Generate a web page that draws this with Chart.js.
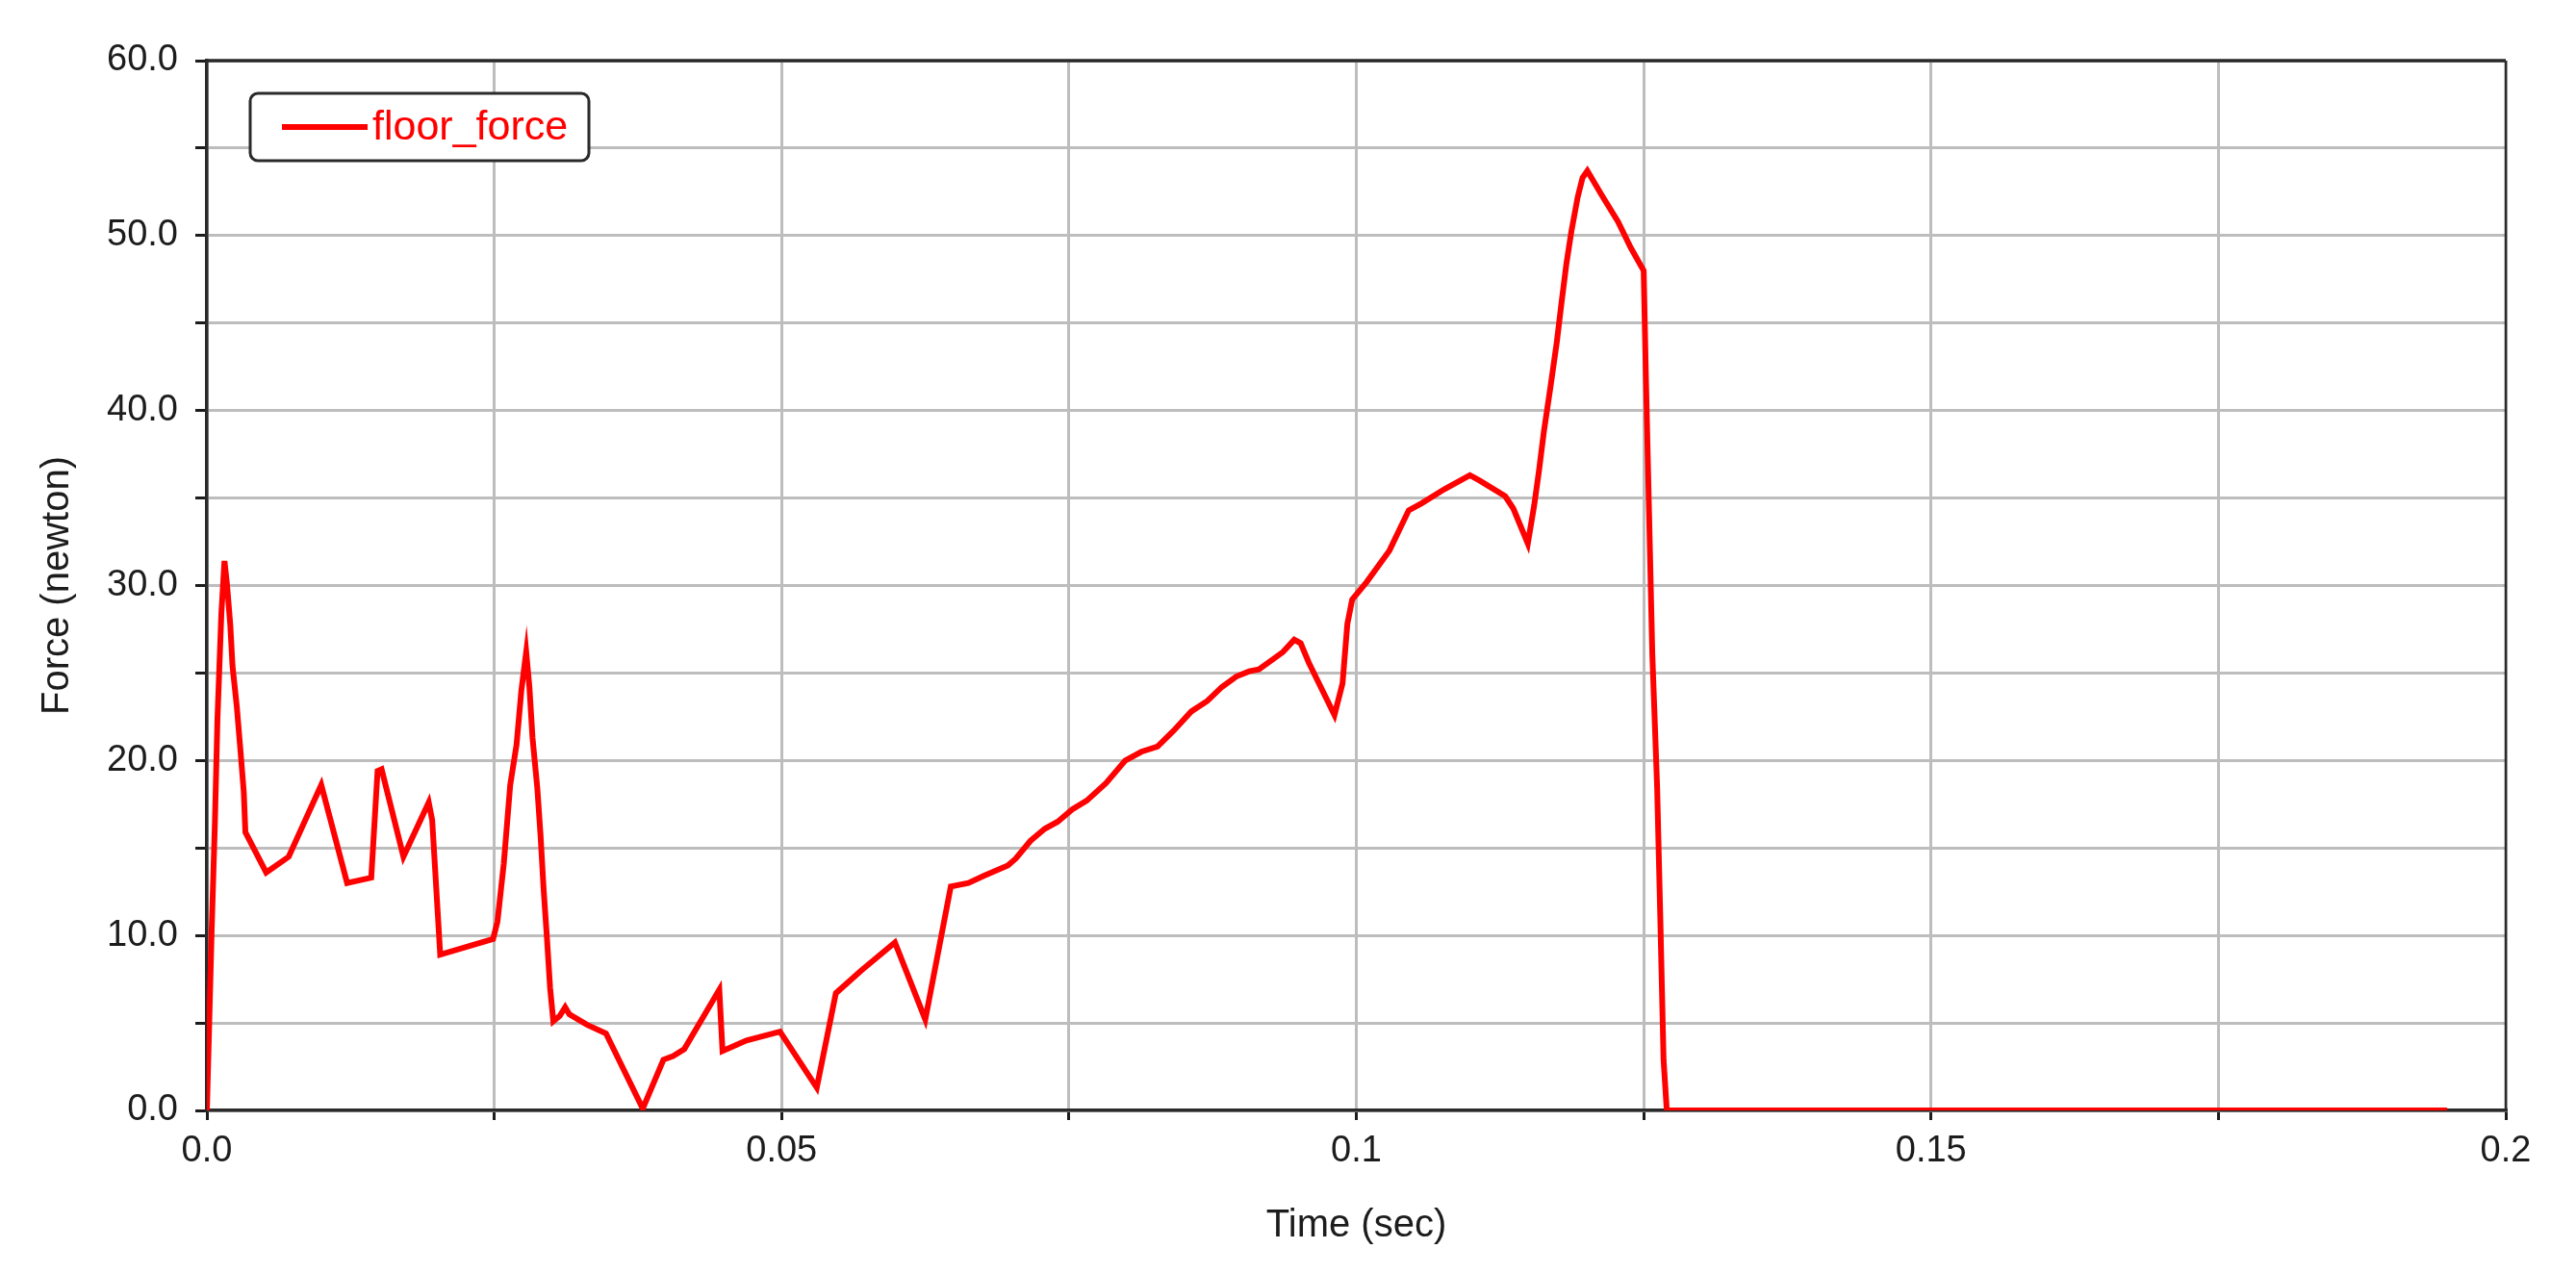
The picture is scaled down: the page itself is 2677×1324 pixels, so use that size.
<!DOCTYPE html>
<html>
<head>
<meta charset="utf-8">
<script src="https://cdn.jsdelivr.net/npm/chart.js@4.4.1/dist/chart.umd.min.js"></script>
<style>
  html, body { margin: 0; padding: 0; background: #ffffff; }
  #wrap { width: 2677px; height: 1324px; position: relative; }
</style>
</head>
<body>
<div id="wrap"><canvas id="c" width="2677" height="1324"></canvas></div>
<script>
// ---- data ----
const seriesName = 'floor_force';
const timeSec = [
  0, 0.0002, 0.00042, 0.0007, 0.00092, 0.00126, 0.00153, 0.00176, 0.00204, 0.00223,
  0.0026, 0.00293, 0.00321, 0.00335, 0.00516, 0.00712, 0.00995, 0.0122, 0.0143, 0.01485,
  0.0152, 0.0171, 0.0193, 0.0196, 0.0203, 0.0249, 0.02528, 0.02583, 0.02639, 0.02694,
  0.02736, 0.02778, 0.02806, 0.02833, 0.02875, 0.02903, 0.0293, 0.02958, 0.02986, 0.03014,
  0.0307, 0.03117, 0.03153, 0.03306, 0.03472, 0.03792, 0.03972, 0.04056, 0.04153, 0.04458,
  0.04486, 0.04694, 0.04986, 0.05306, 0.05472, 0.05694, 0.05986, 0.0625, 0.06472, 0.06625,
  0.06758, 0.06968, 0.07038, 0.07164, 0.0729, 0.07402, 0.07528, 0.07654, 0.07822, 0.0799,
  0.0813, 0.0827, 0.0841, 0.08564, 0.08704, 0.0883, 0.08956, 0.09068, 0.09152, 0.09278,
  0.09362, 0.0946, 0.09516, 0.09586, 0.0981, 0.0988, 0.09922, 0.09964, 0.1009, 0.10288,
  0.10456, 0.10568, 0.10764, 0.10988, 0.11072, 0.11296, 0.11366, 0.11492, 0.11548, 0.1159,
  0.11632, 0.11688, 0.11744, 0.11786, 0.11828, 0.1187, 0.11926, 0.11968, 0.1201, 0.12136,
  0.12276, 0.12388, 0.125, 0.1252, 0.12547, 0.12575, 0.12617, 0.12645, 0.12673, 0.12701,
  0.1949
];
const forceN = [
  0, 4.9, 10.4, 16.5, 22.4, 28.4, 31.4, 30.0, 27.7, 25.4,
  23.1, 20.5, 18.2, 15.9, 13.6, 14.5, 18.6, 13.0, 13.3, 19.4,
  19.5, 14.5, 17.6, 16.6, 8.9, 9.8, 10.8, 14.1, 18.6, 20.9,
  24.0, 26.2, 24.2, 21.3, 18.4, 15.7, 12.6, 9.9, 7.0, 5.1,
  5.4, 5.9, 5.5, 4.9, 4.4, 0.1, 2.9, 3.1, 3.5, 6.9,
  3.4, 4.0, 4.5, 1.3, 6.7, 8.0, 9.6, 5.2, 12.8, 13.0,
  13.4, 14.0, 14.4, 15.4, 16.1, 16.5, 17.2, 17.7, 18.7, 20.0,
  20.5, 20.8, 21.7, 22.8, 23.4, 24.2, 24.8, 25.1, 25.2, 25.8,
  26.2, 26.9, 26.7, 25.6, 22.6, 24.4, 27.8, 29.2, 30.2, 32.0,
  34.3, 34.7, 35.5, 36.3, 36.0, 35.1, 34.4, 32.4, 34.6, 36.6,
  38.8, 41.3, 43.9, 46.2, 48.4, 50.2, 52.2, 53.3, 53.7, 52.3,
  50.8, 49.3, 48.0, 41.7, 34.1, 26.1, 18.5, 10.9, 2.9, 0,
  0
];
const xTickValues = [0, 0.025, 0.05, 0.075, 0.1, 0.125, 0.15, 0.175, 0.2];
const xTickLabels = ['0.0', '', '0.05', '', '0.1', '', '0.15', '', '0.2'];
const yTickValues = [0, 5, 10, 15, 20, 25, 30, 35, 40, 45, 50, 55, 60];
const yTickLabels = ['0.0', '', '10.0', '', '20.0', '', '30.0', '', '40.0', '', '50.0', '', '60.0'];
const xTitle = 'Time (sec)';
const yTitle = 'Force (newton)';

// ---- chart ----
const FONT = "'Liberation Sans', Arial, sans-serif";
const TEXT = '#1c1c1c';
const points = timeSec.map((t, i) => ({ x: t, y: forceN[i] }));

const frameAndLegend = {
  id: 'frameAndLegend',
  beforeDatasetsDraw(chart) {
    const { ctx, chartArea: a } = chart;
    ctx.save();
    ctx.strokeStyle = '#2a2a2a';
    ctx.lineWidth = 3.5;
    ctx.beginPath();
    ctx.moveTo(a.left, a.top);
    ctx.lineTo(a.right, a.top);
    ctx.stroke();
    ctx.lineWidth = 2.5;
    ctx.beginPath();
    ctx.moveTo(a.right, a.top);
    ctx.lineTo(a.right, a.bottom);
    ctx.stroke();
    ctx.restore();
  },
  afterDraw(chart) {
    const { ctx, chartArea: a } = chart;
    const ds = chart.data.datasets[0];
    const bx = a.left + 45, by = a.top + 34, bw = 352, bh = 70, r = 8;
    ctx.save();
    ctx.fillStyle = '#ffffff';
    ctx.strokeStyle = '#2a2a2a';
    ctx.lineWidth = 3;
    ctx.beginPath();
    ctx.roundRect(bx, by, bw, bh, r);
    ctx.fill();
    ctx.stroke();
    ctx.strokeStyle = ds.borderColor;
    ctx.lineWidth = 6;
    ctx.beginPath();
    ctx.moveTo(bx + 33, by + bh / 2);
    ctx.lineTo(bx + 122, by + bh / 2);
    ctx.stroke();
    ctx.fillStyle = ds.borderColor;
    ctx.font = '43px ' + FONT;
    ctx.textBaseline = 'middle';
    ctx.textAlign = 'left';
    ctx.fillText(ds.label, bx + 127, by + bh / 2 + 1);
    ctx.restore();
  }
};

new Chart(document.getElementById('c'), {
  type: 'line',
  data: {
    datasets: [{
      label: seriesName,
      data: points,
      borderColor: '#ff0000',
      backgroundColor: '#ff0000',
      borderWidth: 6,
      pointRadius: 0,
      tension: 0,
      fill: false
    }]
  },
  options: {
    responsive: false,
    animation: false,
    devicePixelRatio: 1,
    layout: { padding: { top: 63, right: 73, bottom: 0, left: 0 } },
    plugins: { legend: { display: false }, tooltip: { enabled: false } },
    scales: {
      x: {
        type: 'linear',
        min: 0, max: 0.2,
        afterBuildTicks(scale) { scale.ticks = xTickValues.map(v => ({ value: v })); },
        afterFit(scale) { scale.height = 170; },
        ticks: {
          autoSkip: false,
          maxRotation: 0,
          padding: 10,
          color: TEXT,
          font: { family: FONT, size: 38 },
          callback(value, index) { return xTickLabels[index]; }
        },
        grid: { color: '#bdbdbd', lineWidth: 3, tickLength: 10, tickColor: '#1c1c1c', tickWidth: 3 },
        border: { color: '#2a2a2a', width: 3.5 },
        title: {
          display: true, text: xTitle, color: TEXT,
          font: { family: FONT, size: 40 },
          padding: { top: 0, bottom: 26 }
        }
      },
      y: {
        type: 'linear',
        min: 0, max: 60,
        afterBuildTicks(scale) { scale.ticks = yTickValues.map(v => ({ value: v })); },
        afterFit(scale) { scale.width = 215; },
        ticks: {
          autoSkip: false,
          padding: 18,
          color: TEXT,
          font: { family: FONT, size: 38 },
          callback(value, index) { return yTickLabels[index]; }
        },
        grid: { color: '#bdbdbd', lineWidth: 3, tickLength: 12, tickColor: '#1c1c1c', tickWidth: 3 },
        border: { color: '#2a2a2a', width: 3.5 },
        title: {
          display: true, text: yTitle, color: TEXT,
          font: { family: FONT, size: 40 },
          padding: { top: 36, bottom: 0 }
        }
      }
    }
  },
  plugins: [frameAndLegend]
});
</script>
</body>
</html>
